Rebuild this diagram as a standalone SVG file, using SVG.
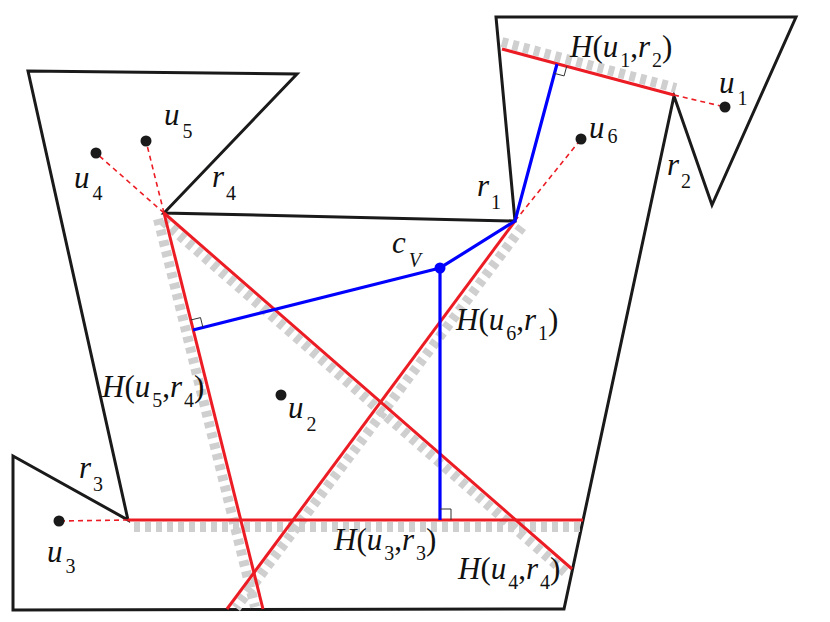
<svg xmlns="http://www.w3.org/2000/svg" width="830" height="622" viewBox="0 0 830 622">
<defs>
<style>
.poly{fill:none;stroke:#1a1a1a;stroke-width:3;stroke-linejoin:miter}
.band{stroke:#cfcfcf;stroke-width:10;stroke-dasharray:6 5;fill:none}
.red{stroke:#ec1c24;stroke-width:3;fill:none}
.rdash{stroke:#ec1c24;stroke-width:1.6;stroke-dasharray:5 4;fill:none}
.blue{stroke:#0000ff;stroke-width:3.2;fill:none}
.ra{stroke:#333;stroke-width:1;fill:none}
.dot{fill:#1a1a1a}
text{font-family:"Liberation Serif","Times New Roman",serif;font-size:31px;fill:#111}
.i{font-style:italic}
.s{font-size:20px;font-style:normal}
.si{font-size:20px;font-style:italic}
</style>
</defs>
<g id="polygon">
<polygon class="poly" points="496,17 796,17 712,205 674,96 564,609 13,610 13,456 128,520 28,71 297,74 164,213 515,221"/>
</g>
<g id="connectors">
<g id="bands">
<line class="band" x1="134" y1="527" x2="581" y2="527"/>
<line class="band" x1="158" y1="219" x2="255" y2="607"/>
<line class="band" x1="163" y1="221" x2="567" y2="574"/>
<line class="band" x1="522" y1="227" x2="236" y2="608"/>
<line class="band" x1="502" y1="42" x2="676" y2="88"/>
</g>
<g id="bisectors">
<line class="red" x1="128" y1="520" x2="583" y2="520"/>
<line class="red" x1="164" y1="213" x2="263" y2="609"/>
<line class="red" x1="164" y1="213" x2="572" y2="569"/>
<line class="red" x1="515" y1="221" x2="227" y2="609"/>
<line class="red" x1="502" y1="49" x2="674" y2="95"/>
</g>
<g id="site-links">
<line class="rdash" x1="674" y1="95" x2="725" y2="107"/>
<line class="rdash" x1="515" y1="221" x2="581" y2="139"/>
<line class="rdash" x1="164" y1="213" x2="146" y2="141"/>
<line class="rdash" x1="164" y1="213" x2="96" y2="153"/>
<line class="rdash" x1="128" y1="520" x2="59" y2="521"/>
</g>
<g id="perpendiculars">
<polyline class="blue" points="557,64 515,221 440,268 440,520"/>
<line class="blue" x1="440" y1="268" x2="193" y2="330"/>
<polyline class="ra" points="566.7,66.3 564.1,75.9 554.4,73.4"/>
<polyline class="ra" points="190.8,320 200.5,317.6 202.9,327.3"/>
<polyline class="ra" points="440,509 451,509 451,520"/>
</g>
</g>
<g id="u1"><circle class="dot" cx="725" cy="107" r="5.5"/><text x="719" y="93"><tspan class="i">u</tspan><tspan class="s" dx="3" dy="12">1</tspan></text></g>
<g id="u6"><circle class="dot" cx="581" cy="139" r="5.5"/><text x="589" y="138"><tspan class="i">u</tspan><tspan class="s" dx="3" dy="5">6</tspan></text></g>
<g id="u5"><circle class="dot" cx="146" cy="141" r="5.5"/><text x="164" y="125"><tspan class="i">u</tspan><tspan class="s" dx="3" dy="13">5</tspan></text></g>
<g id="u4"><circle class="dot" cx="96" cy="153" r="5.5"/><text x="74" y="188"><tspan class="i">u</tspan><tspan class="s" dx="3" dy="12">4</tspan></text></g>
<g id="u2"><circle class="dot" cx="281" cy="395" r="5.5"/><text x="288" y="418"><tspan class="i">u</tspan><tspan class="s" dx="3" dy="13">2</tspan></text></g>
<g id="u3"><circle class="dot" cx="59" cy="521" r="5.5"/><text x="47" y="562"><tspan class="i">u</tspan><tspan class="s" dx="3" dy="11">3</tspan></text></g>
<g id="cV"><circle cx="440" cy="268" r="5.5" fill="#0000ff"/><text x="392" y="253"><tspan class="i">c</tspan><tspan class="si" dx="3" dy="14">V</tspan></text></g>
<g id="r1"><text x="477" y="196"><tspan class="i">r</tspan><tspan class="s" dx="2" dy="13">1</tspan></text></g>
<g id="r2"><text x="667" y="175"><tspan class="i">r</tspan><tspan class="s" dx="2" dy="13">2</tspan></text></g>
<g id="r3"><text x="79" y="478"><tspan class="i">r</tspan><tspan class="s" dx="2" dy="13">3</tspan></text></g>
<g id="r4"><text x="212" y="187"><tspan class="i">r</tspan><tspan class="s" dx="2" dy="13">4</tspan></text></g>
<g id="H-u1-r2"><text x="570" y="57"><tspan class="i">H</tspan>(<tspan class="i">u</tspan><tspan class="s" dx="2" dy="10">1</tspan><tspan dy="-10">,</tspan><tspan class="i">r</tspan><tspan class="s" dx="2" dy="10">2</tspan><tspan dy="-10">)</tspan></text></g>
<g id="H-u6-r1"><text x="456" y="330"><tspan class="i">H</tspan>(<tspan class="i">u</tspan><tspan class="s" dx="2" dy="10">6</tspan><tspan dy="-10">,</tspan><tspan class="i">r</tspan><tspan class="s" dx="2" dy="10">1</tspan><tspan dy="-10">)</tspan></text></g>
<g id="H-u5-r4"><text x="102" y="397"><tspan class="i">H</tspan>(<tspan class="i">u</tspan><tspan class="s" dx="2" dy="10">5</tspan><tspan dy="-10">,</tspan><tspan class="i">r</tspan><tspan class="s" dx="2" dy="10">4</tspan><tspan dy="-10">)</tspan></text></g>
<g id="H-u3-r3"><text x="334" y="550"><tspan class="i">H</tspan>(<tspan class="i">u</tspan><tspan class="s" dx="2" dy="10">3</tspan><tspan dy="-10">,</tspan><tspan class="i">r</tspan><tspan class="s" dx="2" dy="10">3</tspan><tspan dy="-10">)</tspan></text></g>
<g id="H-u4-r4"><text x="458" y="579"><tspan class="i">H</tspan>(<tspan class="i">u</tspan><tspan class="s" dx="2" dy="10">4</tspan><tspan dy="-10">,</tspan><tspan class="i">r</tspan><tspan class="s" dx="2" dy="10">4</tspan><tspan dy="-10">)</tspan></text></g>
</svg>
